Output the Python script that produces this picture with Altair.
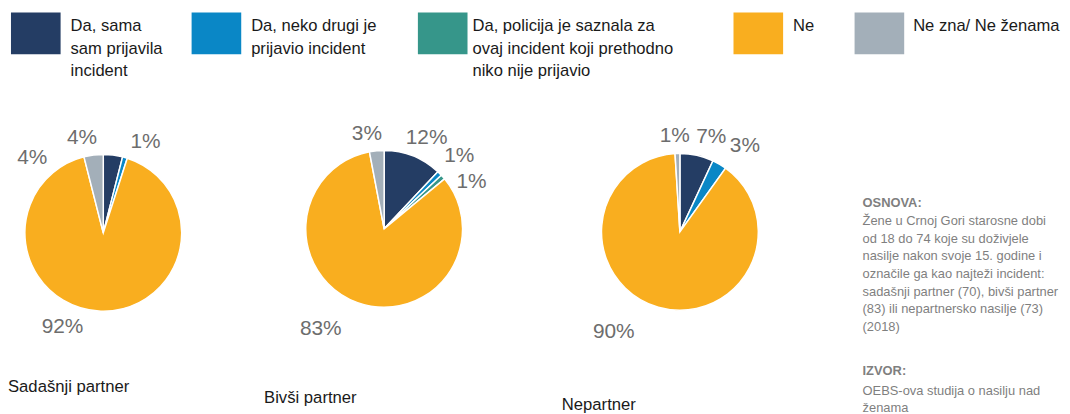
import altair as alt
import pandas as pd

# ---------------- data ----------------
categories = [
    "Da, sama sam prijavila incident",
    "Da, neko drugi je prijavio incident",
    "Da, policija je saznala za ovaj incident koji prethodno niko nije prijavio",
    "Ne",
    "Ne zna/ Ne ženama",
]
legend_text = [
    "Da, sama\nsam prijavila\nincident",
    "Da, neko drugi je\nprijavio incident",
    "Da, policija je saznala za\novaj incident koji prethodno\nniko nije prijavio",
    "Ne",
    "Ne zna/ Ne ženama",
]
groups = ["Sadašnji partner", "Bivši partner", "Nepartner"]
sadasnji_partner = [4, 1, 0, 92, 4]
bivsi_partner = [12, 1, 1, 83, 3]
nepartner = [7, 3, 0, 90, 1]

note_title = "OSNOVA:"
note_body = ("Žene u Crnoj Gori starosne dobi\nod 18 do 74 koje su doživjele\n"
             "nasilje nakon svoje 15. godine i\noznačile ga kao najteži incident:\n"
             "sadašnji partner (70), bivši partner\n(83) ili nepartnersko nasilje (73)\n(2018)")
source_title = "IZVOR:"
source_body = "OEBS-ova studija o nasilju nad\nženama"

# ---------------- style / layout ----------------
colors = ["#243d64", "#0a87c6", "#36968a", "#f9ae1f", "#a3afb9"]
O = 8                      # page margin
W, H = 1070 - O, 414 - O   # drawing area
SANS = "Liberation Sans"

pie_center = [(104, 233), (387, 229), (685, 232)]   # page pixels
pie_radius = 79
label_radius = 100
label_nudge = [
    {0: (-84, 24), 1: (15, 5), 3: (-38, -5), 4: (-9, 4)},
    {0: (6, 1), 1: (5, -3), 2: (13, 19), 3: (-30, 7), 4: (-8, 4)},
    {0: (10, 2), 1: (15, 0), 3: (-39, 5), 4: (-2, 3)},
]
group_title_pos = [(8, 388), (266, 399), (566, 407)]   # left x, middle y

legend_square_x = [11, 193, 421, 739, 861]
legend_square_w = 50
legend_square_y = (11, 53)
legend_text_x = [71, 253, 476, 799, 920]
legend_baseline = 30
legend_line_h = 22.4

note_x = 869

# ---------------- tables ----------------
series = [sadasnji_partner, bivsi_partner, nepartner]
rows = []
for g, vals in zip(groups, series):
    for i, (c, v) in enumerate(zip(categories, vals)):
        rows.append({"group": g, "category": c, "idx": i, "value": v})
df = pd.DataFrame(rows)

color_scale = alt.Scale(domain=categories, range=colors)
theta_scale = alt.Scale(domain=[0, 1], range=[0, 6.283185307179586])

layers = []
for gi, g in enumerate(groups):
    cx, cy = pie_center[gi]
    base = (alt.Chart(df)
            .transform_filter(alt.datum.group == g)
            .transform_joinaggregate(total="sum(value)")
            .transform_calculate(frac="datum.value / datum.total"))
    arcs = base.transform_filter(alt.datum.value > 0).mark_arc(
        x=cx - O, y=cy - O, outerRadius=pie_radius, stroke="white", strokeWidth=1.5
    ).encode(
        theta=alt.Theta("frac:Q", stack=True, scale=theta_scale),
        color=alt.Color("category:N", scale=color_scale, legend=None),
        order=alt.Order("idx:Q"),
    )
    layers.append(arcs)
    lab_base = (base
                .transform_window(cum="sum(frac)", sort=[alt.SortField("idx")], frame=[None, 0])
                .transform_calculate(mid="datum.cum - datum.frac / 2",
                                     label="datum.value + '%'"))
    for k, (dx, dy) in label_nudge[gi].items():
        t = lab_base.transform_filter(alt.datum.idx == k).mark_text(
            x=cx - O, y=cy - O, radius=label_radius, dx=dx, dy=dy,
            font=SANS, fontSize=21, color="#6d6d6d", align="center", baseline="middle"
        ).encode(
            theta=alt.Theta("mid:Q", scale=theta_scale),
            text="label:N",
        )
        layers.append(t)

# group titles
titles_df = pd.DataFrame({
    "group": groups,
    "tx": [p[0] - O for p in group_title_pos],
    "ty": [p[1] - O for p in group_title_pos],
})
layers.append(alt.Chart(titles_df).mark_text(
    font=SANS, fontSize=16.8, color="#1a1a1a", align="left", baseline="middle"
).encode(x=alt.X("tx:Q", scale=None), y=alt.Y("ty:Q", scale=None), text="group:N"))

# legend
leg_df = pd.DataFrame({
    "category": categories,
    "text": legend_text,
    "x0": [x - O for x in legend_square_x],
    "x1": [x - O + legend_square_w for x in legend_square_x],
    "tx": [x - O for x in legend_text_x],
})
leg_df["y0"] = legend_square_y[0] - O
leg_df["y1"] = legend_square_y[1] - O
layers.append(alt.Chart(leg_df).mark_rect().encode(
    x=alt.X("x0:Q", scale=None), x2="x1:Q",
    y=alt.Y("y0:Q", scale=None), y2="y1:Q",
    color=alt.Color("category:N", scale=color_scale, legend=None),
))
layers.append(alt.Chart(leg_df).mark_text(
    font=SANS, fontSize=16.7, color="#1a1a1a", align="left", baseline="alphabetic",
    lineBreak="\n", lineHeight=legend_line_h
).encode(x=alt.X("tx:Q", scale=None), y=alt.value(legend_baseline - O), text="text:N"))

# notes on the right
def note(txt, y, bold=False):
    return alt.Chart(pd.DataFrame({"t": [txt]})).mark_text(
        font=SANS, fontSize=13, color="#7f7f7f", align="left", baseline="alphabetic",
        lineBreak="\n", lineHeight=17.8, fontWeight="bold" if bold else "normal"
    ).encode(x=alt.value(note_x - O), y=alt.value(y - O), text="t:N")

layers += [note(note_title, 207, True), note(note_body, 225),
           note(source_title, 376, True), note(source_body, 396)]

chart = alt.layer(*layers).properties(
    width=W, height=H, padding=0, autosize="none", background="white"
).configure_view(stroke=None)

chart.save("out.html", embed_options={"renderer": "svg", "actions": False})
